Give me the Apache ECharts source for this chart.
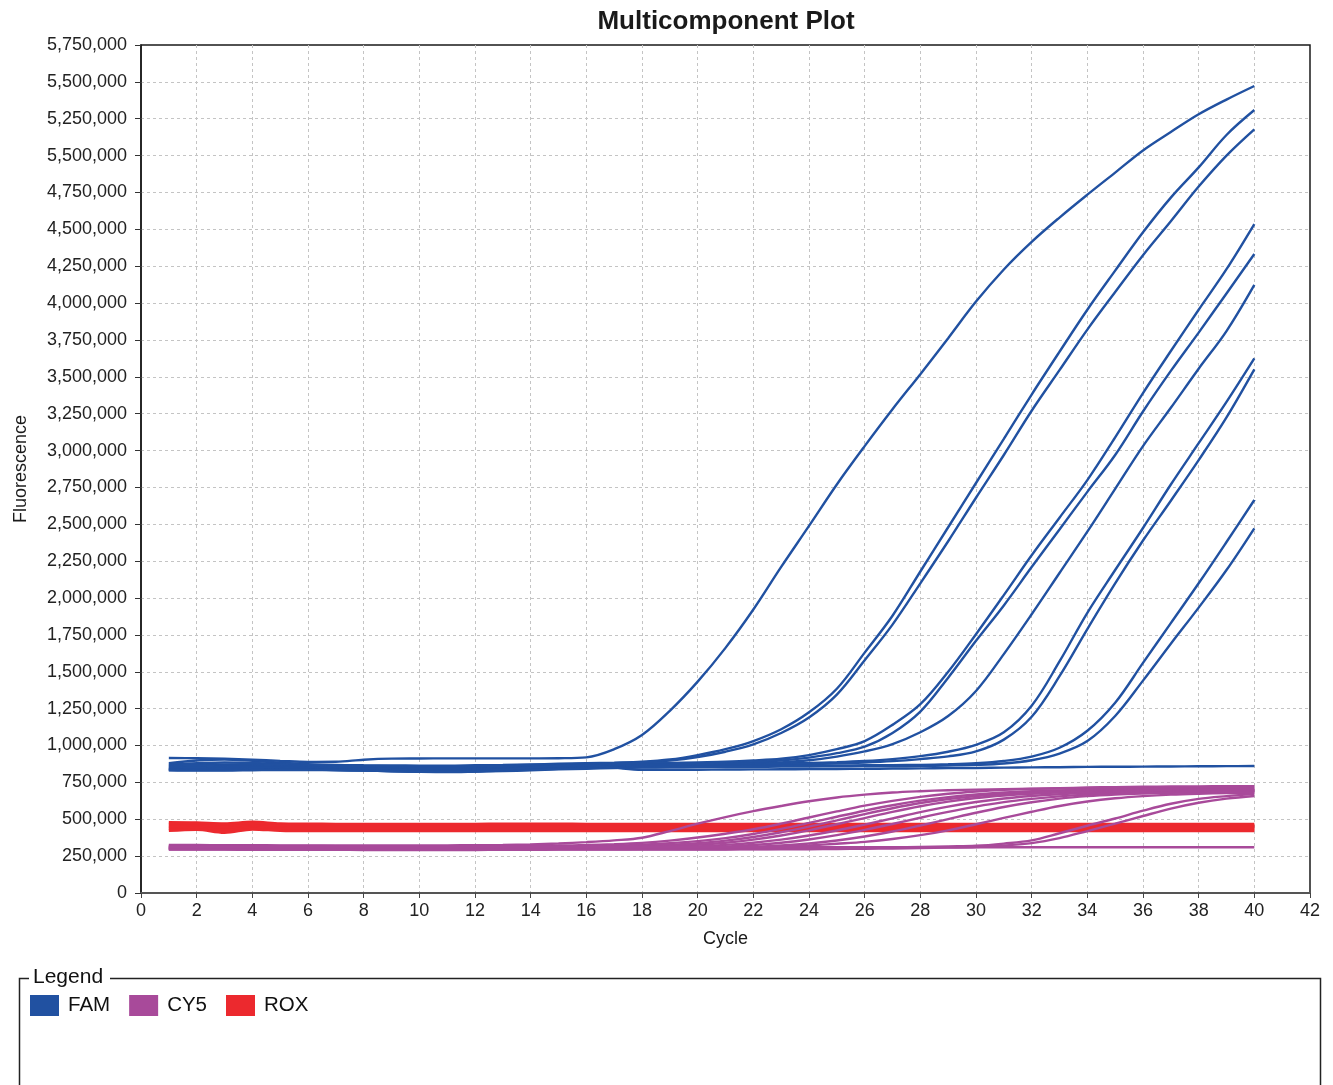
<!DOCTYPE html>
<html>
<head>
<meta charset="utf-8">
<title>Multicomponent Plot</title>
<script src="https://cdn.jsdelivr.net/npm/echarts/dist/echarts.min.js"></script>
<style>
  html, body { margin: 0; padding: 0; background: #fff; }
  #chart { width: 1333px; height: 1085px; }
</style>
</head>
<body>
<div id="chart"></div>
<script>
// fluorescence values are in thousands
const cycles = [1, 2, 3, 4, 5, 6, 7, 8, 9, 10, 11, 12, 13, 14, 15, 16, 17, 18, 19, 20,
  21, 22, 23, 24, 25, 26, 27, 28, 29, 30, 31, 32, 33, 34, 35, 36, 37, 38, 39, 40];

const yTickLabels = ["0", "250,000", "500,000", "750,000", "1,000,000", "1,250,000", "1,500,000",
  "1,750,000", "2,000,000", "2,250,000", "2,500,000", "2,750,000", "3,000,000", "3,250,000",
  "3,500,000", "3,750,000", "4,000,000", "4,250,000", "4,500,000", "4,750,000", "5,500,000",
  "5,250,000", "5,500,000", "5,750,000"];

// FAM wells
const famA = [915,914,910,904,896,889,890,904,911,912, 913,913,913,913,914,920,975,1071,1235,1433,
  1662,1922,2211,2489,2770,3030,3280,3518,3762,4010, 4228,4415,4580,4735,4885,5035,5160,5280,5380,5472];
const famB = [880,898,905,896,884,874,868,866,865,864, 864,866,868,872,876,880,884,890,905,935,
  975,1030,1110,1225,1385,1630,1880,2180,2480,2780, 3080,3380,3670,3955,4220,4480,4715,4920,5140,5309];
const famC = [872,880,885,882,876,870,866,862,860,858, 858,860,864,868,872,876,880,885,898,922,
  958,1008,1085,1190,1345,1578,1820,2100,2385,2680, 2970,3270,3545,3820,4075,4325,4555,4790,5000,5178];
const famD = [865,868,872,872,868,862,858,855,852,850, 850,852,855,860,866,870,874,878,882,886,
  890,898,910,935,975,1030,1140,1280,1500,1755, 2020,2290,2545,2800,3090,3390,3675,3955,4230,4536];
const famE = [858,860,862,862,858,854,850,848,845,843, 843,845,848,852,856,860,864,868,872,876,
  880,887,898,918,948,992,1085,1230,1460,1710, 1950,2210,2465,2720,2970,3265,3540,3800,4065,4333];
const famF = [850,852,855,855,852,848,845,842,838,835, 835,838,842,846,850,854,858,862,865,868,
  872,878,886,900,925,960,1010,1090,1200,1370, 1620,1890,2170,2450,2740,3030,3290,3555,3810,4123];
const famG = [845,846,848,850,850,848,846,843,840,838, 838,840,844,850,856,862,866,868,870,872,
  874,876,879,882,887,895,908,928,958,1005, 1090,1270,1570,1900,2190,2475,2770,3050,3330,3625];
const famH = [840,840,842,844,845,843,840,837,834,831, 830,832,836,842,848,854,858,862,864,866,
  868,870,872,875,879,885,894,908,926,960, 1040,1195,1470,1790,2100,2390,2660,2935,3225,3551];
const famI = [836,836,838,840,840,838,835,832,828,825, 824,826,830,836,842,848,852,855,857,859,
  861,862,863,864,865,866,867,869,873,880, 895,925,985,1100,1290,1560,1830,2100,2380,2665];
const famJ = [834,833,834,836,837,836,834,830,826,822, 821,823,827,832,838,843,847,850,852,854,
  855,856,857,858,859,860,861,862,865,869, 878,900,945,1030,1200,1440,1690,1935,2190,2473];
const famK = [832,830,830,832,834,834,832,830,826,822, 820,824,836,852,862,866,850,836,836,836,
  837,838,839,840,841,842,844,845,847,848, 850,852,853,855,856,857,858,859,860,861];

// CY5 wells
const cy5A = [325,325,324,324,323,323,322,322,322,322, 323,324,326,330,336,345,357,375,420,470,
  515,555,590,622,648,667,681,690,697,701, 704,707,709,711,713,714,715,716,717,718];
const cy5B = [321,320,320,319,319,319,318,318,318,318, 318,319,319,320,322,325,331,340,355,376,
  402,432,470,512,553,592,625,652,673,688, 699,706,711,715,718,720,722,723,724,725];
const cy5C = [316,316,316,315,315,315,315,314,314,314, 314,314,315,315,316,318,322,328,338,352,
  372,400,435,475,517,558,595,626,650,668, 681,690,696,700,703,706,708,710,711,712];
const cy5D = [312,312,312,311,311,311,311,310,310,310, 310,310,311,311,312,313,316,320,327,338,
  355,380,412,450,492,535,575,610,637,657, 671,681,688,693,697,700,702,703,704,705];
const cy5E = [308,308,308,308,307,307,307,307,306,306, 306,306,307,307,308,309,310,312,318,327,
  341,362,390,425,466,508,550,588,620,644, 661,673,681,687,691,694,696,698,699,700];
const cy5F = [305,305,305,305,304,304,304,304,303,303, 303,303,304,304,305,306,307,308,310,316,
  326,341,362,390,424,464,506,548,586,617, 641,658,670,678,684,688,691,693,694,695];
const cy5G = [302,302,302,302,301,301,301,301,300,300, 300,300,301,301,302,303,304,305,306,307,
  314,325,341,363,392,428,468,510,550,586, 616,638,655,667,675,680,684,687,689,690];
const cy5H = [300,300,300,299,299,299,299,298,298,298, 298,298,299,299,300,300,301,301,302,302,
  306,312,322,336,356,383,417,458,501,544, 583,615,640,657,668,675,680,682,684,685];
const cy5I = [298,298,298,297,297,297,297,296,296,296, 296,296,297,297,298,298,298,299,299,300,
  302,306,313,322,334,347,366,392,425,466, 509,551,590,620,642,657,667,673,677,680];
const cy5J = [296,296,296,295,295,295,295,294,294,294, 294,294,295,295,296,296,296,296,297,297,
  297,298,299,300,302,305,308,312,316,320, 335,357,405,456,505,558,605,638,657,672];
const cy5K = [294,294,294,293,293,293,293,292,292,292, 292,292,293,293,294,294,294,294,295,295,
  295,296,296,297,298,300,302,305,308,312, 322,338,372,420,470,522,572,612,640,658];
const cy5L = [311,311,311,311,310,310,310,310,310,310, 310,310,310,310,310,310,310,310,310,310,
  310,310,310,310,310,310,310,310,310,310, 310,310,310,310,310,310,310,310,310,310];

// ROX passive reference
const roxA = [478,476,470,481,470,468,467,467,467,467, 467,467,468,468,468,467,467,467,467,467,
  467,467,467,467,467,467,467,467,467,467, 467,467,467,467,467,467,467,467,467,467];
const roxB = [468,467,461,470,462,459,458,458,458,458, 458,458,459,459,459,458,458,458,458,458,
  458,458,458,458,458,458,458,458,458,458, 458,458,458,458,458,458,458,458,458,458];
const roxC = [456,456,449,457,452,450,450,450,450,450, 450,450,450,450,450,450,450,450,450,450,
  450,450,450,450,450,450,450,450,450,450, 450,450,450,450,450,450,450,450,450,450];
const roxD = [446,447,437,447,442,440,440,440,440,440, 440,440,440,440,440,440,440,440,440,440,
  440,440,440,440,440,440,440,440,440,440, 440,440,440,440,440,440,440,440,440,440];
const roxE = [435,439,425,440,432,430,430,430,430,430, 430,430,430,430,430,430,430,430,430,430,
  430,430,430,430,430,430,430,430,430,430, 430,430,430,430,430,430,430,430,430,430];
const roxF = [423,431,411,433,424,422,422,422,422,422, 422,422,422,422,422,422,422,422,422,422,
  422,422,422,422,422,422,422,422,422,422, 422,422,422,422,422,422,422,422,422,422];

const famWells = [famA, famB, famC, famD, famE, famF, famG, famH, famI, famJ, famK];
const cy5Wells = [cy5A, cy5B, cy5C, cy5D, cy5E, cy5F, cy5G, cy5H, cy5I, cy5J, cy5K, cy5L];
const roxWells = [roxA, roxB, roxC, roxD, roxE, roxF];

const FONT = "'Liberation Sans', Arial, Helvetica, sans-serif";
const colors = { FAM: "#2151a1", CY5: "#a84a9a", ROX: "#ec292e" };
const gridDash = { color: "#c4c4c4", type: [3, 3], width: 1 };

function lineSeries(name, values, width) {
  return {
    name: name,
    type: "line",
    data: cycles.map((c, i) => [c, values[i]]),
    symbol: "none",
    smooth: 0.35,
    silent: true,
    lineStyle: { color: colors[name], width: width },
    itemStyle: { color: colors[name] },
  };
}

const series = [];
roxWells.forEach((w) => series.push(lineSeries("ROX", w, 3)));
cy5Wells.forEach((w) => series.push(lineSeries("CY5", w, 2.4)));
famWells.forEach((w) => series.push(lineSeries("FAM", w, 2.4)));

const chart = echarts.init(document.getElementById("chart"), null, { renderer: "canvas" });
chart.setOption({
  animation: false,
  backgroundColor: "#fff",
  textStyle: { fontFamily: FONT },
  grid: {
    left: 141,
    right: 23,
    top: 45,
    bottom: 192,
    show: true,
    borderColor: "#1a1a1a",
    borderWidth: 1.5,
  },
  xAxis: {
    type: "value",
    min: 0,
    max: 42,
    interval: 2,
    name: "Cycle",
    nameLocation: "middle",
    nameGap: 37,
    nameTextStyle: { fontSize: 18, color: "#1a1a1a", fontFamily: FONT },
    axisLine: { show: true, lineStyle: { color: "#555", width: 2 } },
    axisTick: { show: true, length: 5, lineStyle: { color: "#444" } },
    axisLabel: { fontSize: 18, color: "#222", margin: 9, fontFamily: FONT },
    splitLine: { show: true, showMinLine: false, showMaxLine: false, lineStyle: gridDash },
  },
  yAxis: {
    type: "value",
    min: 0,
    max: 5750,
    interval: 250,
    name: "Fluorescence",
    nameLocation: "middle",
    nameRotate: 90,
    nameGap: 111,
    nameTextStyle: { fontSize: 18, color: "#1a1a1a", fontFamily: FONT },
    axisLine: { show: true, lineStyle: { color: "#1a1a1a", width: 1.5 } },
    axisTick: { show: true, length: 6, lineStyle: { color: "#333" } },
    axisLabel: {
      fontSize: 18,
      color: "#222",
      margin: 14,
      fontFamily: FONT,
      formatter: (v) => yTickLabels[Math.round(v / 250)],
    },
    splitLine: { show: true, showMinLine: false, showMaxLine: false, lineStyle: gridDash },
  },
  legend: {
    data: ["FAM", "CY5", "ROX"],
    left: 30,
    top: 995,
    padding: 0,
    icon: "rect",
    itemWidth: 29,
    itemHeight: 21,
    itemGap: 19,
    selectedMode: false,
    textStyle: { fontSize: 20.5, color: "#111", fontFamily: FONT, padding: [0, 0, 0, 4] },
  },
  graphic: [
    {
      type: "text",
      x: 726,
      y: 22,
      style: {
        text: "Multicomponent Plot",
        font: "bold 26px " + FONT,
        fill: "#1a1a1a",
        align: "center",
        verticalAlign: "middle",
      },
    },
    {
      type: "polyline",
      shape: { points: [[29, 978.5], [19.5, 978.5], [19.5, 1095]] },
      style: { stroke: "#222", lineWidth: 1.5, fill: null },
    },
    {
      type: "polyline",
      shape: { points: [[110, 978.5], [1320.5, 978.5], [1320.5, 1095]] },
      style: { stroke: "#222", lineWidth: 1.5, fill: null },
    },
    {
      type: "text",
      x: 33,
      y: 977,
      style: {
        text: "Legend",
        font: "21px " + FONT,
        fill: "#111",
        verticalAlign: "middle",
      },
    },
  ],
  series: series,
});
</script>
</body>
</html>
